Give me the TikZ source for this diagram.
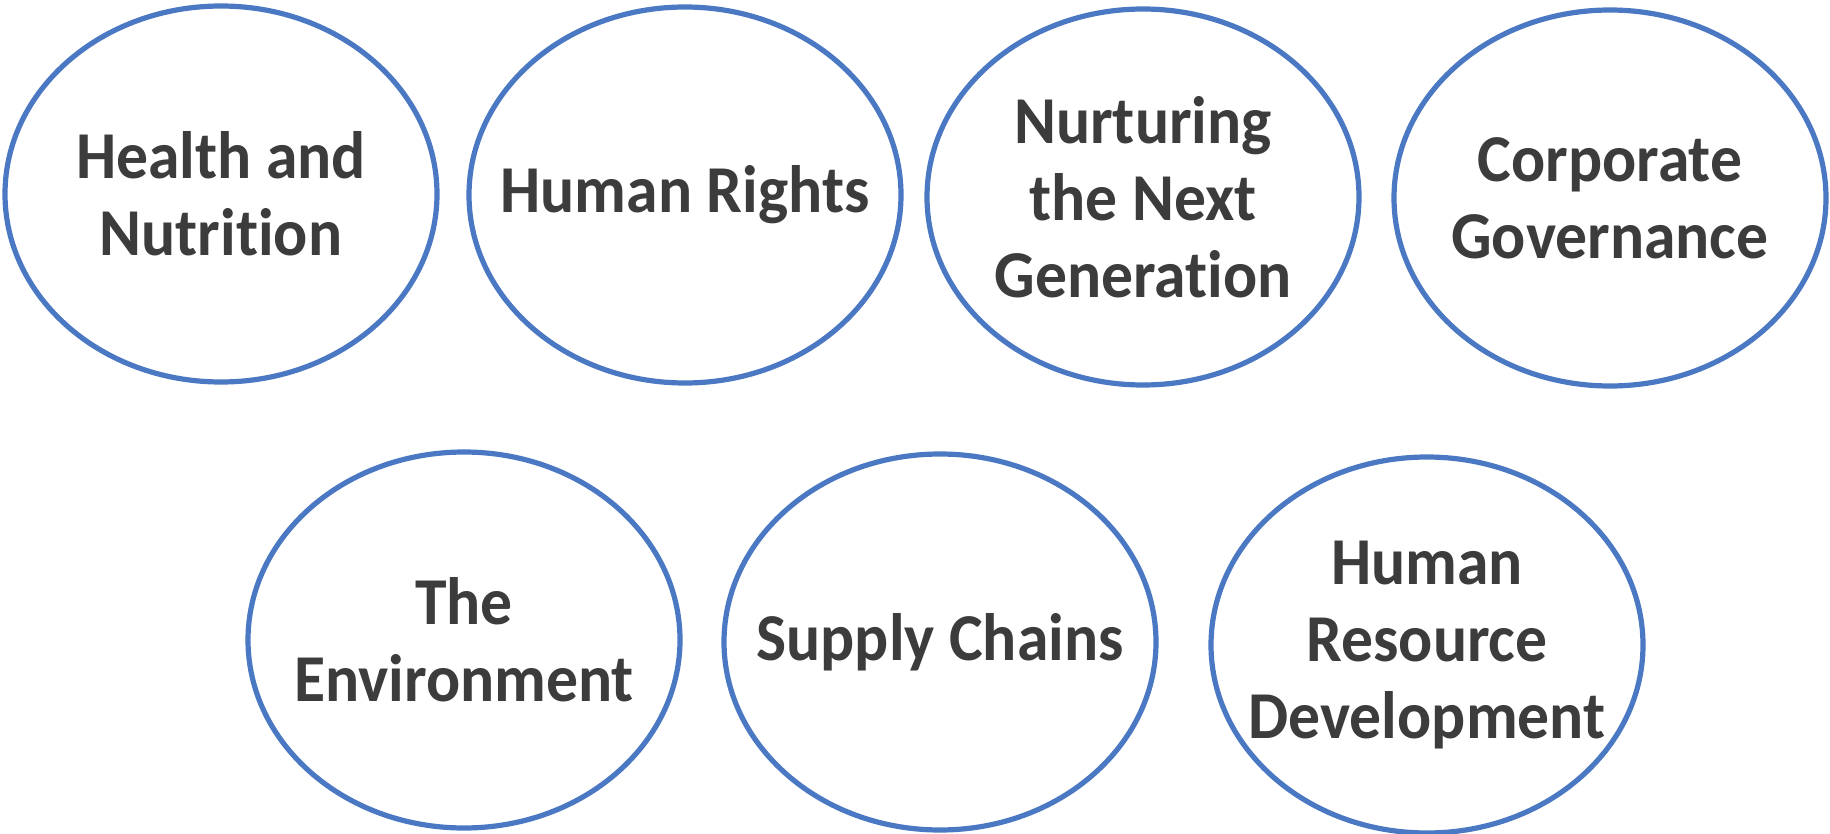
\documentclass[tikz,border=0pt]{standalone}
\usepackage{fontspec}
\setmainfont[Ligatures=NoCommon,FakeStretch=0.95]{Carlito}
\usetikzlibrary{shapes.geometric}
\definecolor{ringblue}{HTML}{4A78C2}
\definecolor{labelgray}{HTML}{3C3C3C}
\begin{document}
\begin{tikzpicture}[x=1pt,y=-1pt,
  ring/.style={ellipse, draw=ringblue, line width=5.2pt, fill=white,
    minimum width=432pt, minimum height=376pt, inner sep=0pt},
  topic/.style={inner sep=0pt, align=center, text=labelgray,
    font=\bfseries\fontsize{67}{77}\selectfont}]
  \useasboundingbox (0,0) rectangle (1830,834);
  % top row of rings
  \node[ring] (health)  at (221,194)  {};
  \node[ring] (rights)  at (685,195)  {};
  \node[ring] (nurture) at (1143,197) {};
  \node[ring] (govern)  at (1610,198) {};
  % bottom row of rings
  \node[ring] (environ) at (464,640)  {};
  \node[ring] (supply)  at (940,642)  {};
  \node[ring] (hrdev)   at (1427,645) {};
  % labels
  \node[topic] (healthtxt)  at (health)  {Health and\\Nutrition};
  \node[topic] (rightstxt)  at (rights)  {Human Rights};
  \node[topic] (nurturetxt) at (nurture) {Nurturing\\the Next\\Generation};
  \node[topic] (governtxt)  at (govern)  {Corporate\\Governance};
  \node[topic] (environtxt) at (environ) {The\\Environment};
  \node[topic] (supplytxt)  at (supply)  {Supply Chains};
  \node[topic] (hrdevtxt)   at (hrdev)   {Human\\Resource\\Development};
\end{tikzpicture}
\end{document}
